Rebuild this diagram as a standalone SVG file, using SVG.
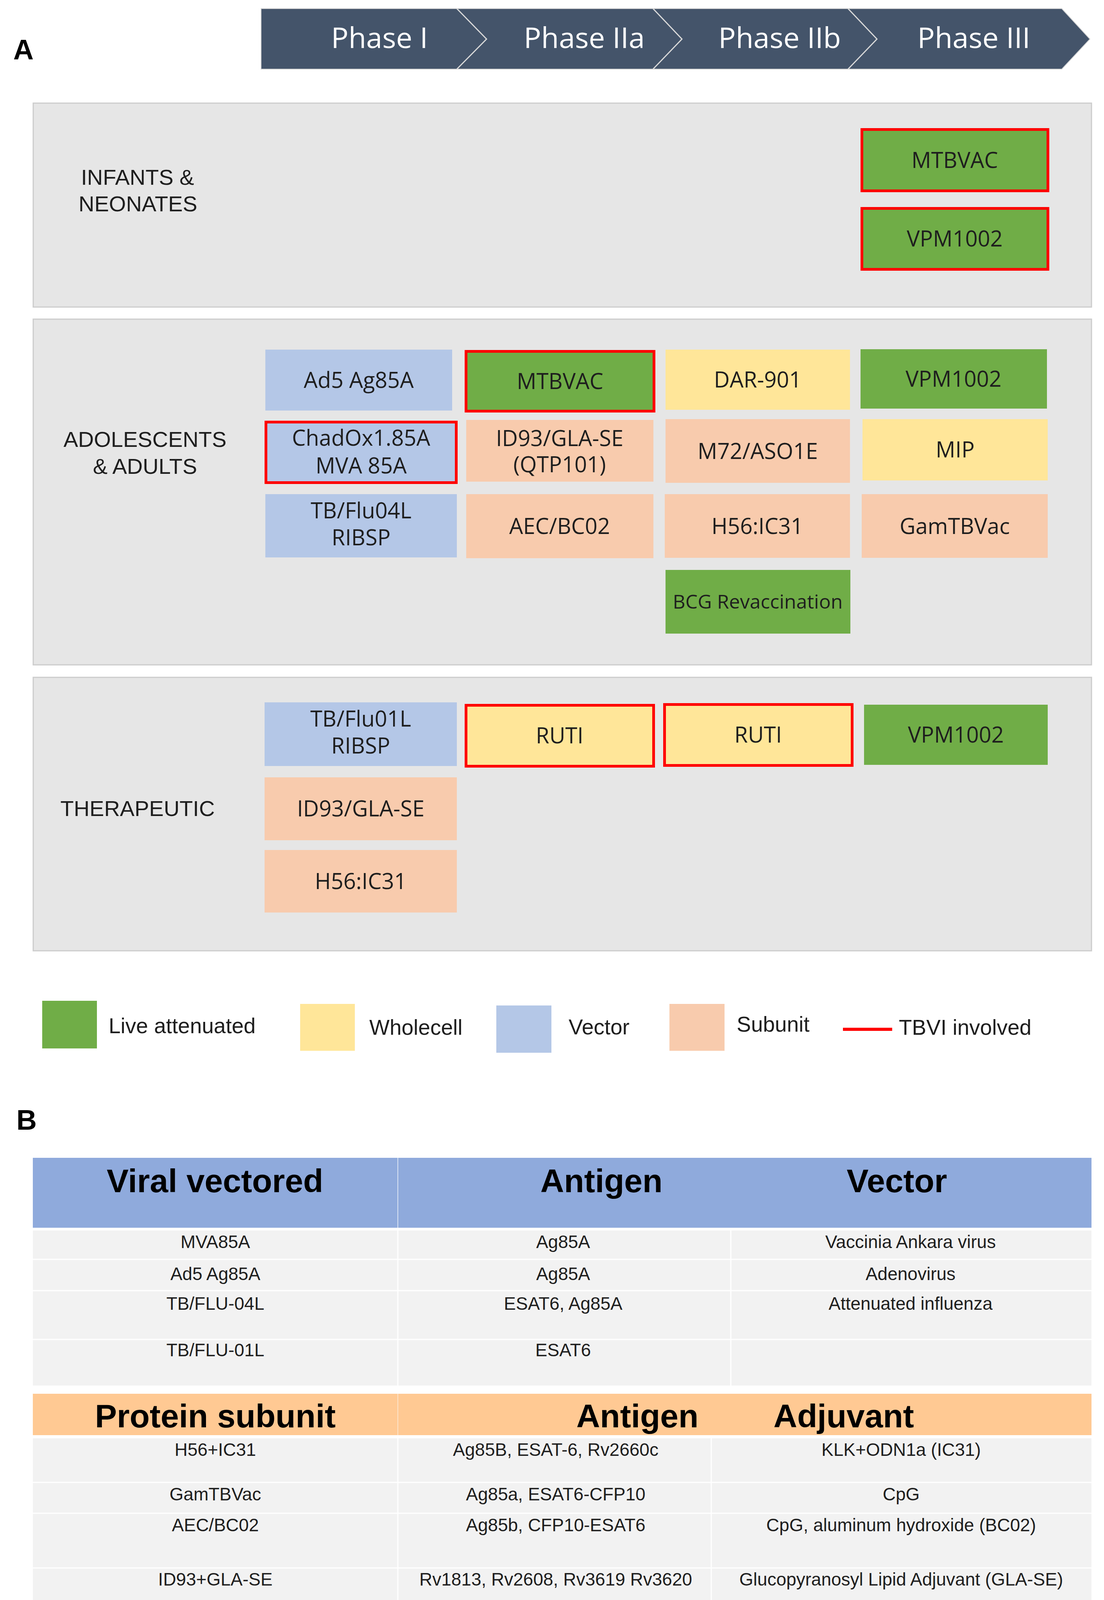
<svg xmlns="http://www.w3.org/2000/svg" width="2825" height="4330" viewBox="0 0 2825 4330">
<style>
.bg{fill:#FFFFFF}
.panel{fill:#E6E6E6;stroke:#CCCCCC;stroke-width:3}
.live{fill:#70AD47}
.whole{fill:#FFE699}
.vec{fill:#B4C7E7}
.sub{fill:#F8CBAD}
.tbvi{stroke:#FF0000;stroke-width:7}
.bt{font-family:"Open Sans","Liberation Sans",sans-serif;font-size:56px;fill:#1E1E1E;text-anchor:middle}
.lab{font-family:"Liberation Sans",Arial,sans-serif;font-size:56px;fill:#1E1E1E;text-anchor:middle}
.leg{font-family:"Liberation Sans",Arial,sans-serif;font-size:55px;fill:#1E1E1E}
.ph{font-family:"Open Sans","Liberation Sans",sans-serif;font-size:74px;fill:#FFFFFF;text-anchor:middle}
.big{font-family:"Liberation Sans",Arial,sans-serif;font-size:72px;font-weight:bold;fill:#000}
.th{font-family:"Liberation Sans",Arial,sans-serif;font-size:84px;font-weight:bold;fill:#000;text-anchor:middle}
.td{font-family:"Liberation Sans",Arial,sans-serif;font-size:46px;fill:#1E1E1E;text-anchor:middle}
.cell{fill:#F2F2F2}
.grid{stroke:#FFFFFF;stroke-width:3;fill:none}
</style>
<rect class="bg" x="0" y="0" width="2825" height="4330"/>

<!-- Panel A label -->
<text class="big" x="34" y="152">A</text>

<!-- Phase banner -->
<g id="phase-banner">
  <polygon points="668,22 2717,22 2789,100 2717,177 668,177" fill="#44546A" stroke="#D4D4D4" stroke-width="2"/>
  <polyline points="1169,22 1245,100 1169,177" fill="none" stroke="#D9D9D9" stroke-width="3"/>
  <polyline points="1671,22 1745,100 1671,177" fill="none" stroke="#D9D9D9" stroke-width="3"/>
  <polyline points="2170,22 2244,100 2170,177" fill="none" stroke="#D9D9D9" stroke-width="3"/>
  <text class="ph" x="971" y="123">Phase I</text>
  <text class="ph" x="1495" y="123">Phase IIa</text>
  <text class="ph" x="1995" y="123">Phase IIb</text>
  <text class="ph" x="2492" y="123">Phase III</text>
</g>

<!-- Panels -->
<g id="panel-infants">
  <rect class="panel" x="85" y="264" width="2708" height="522"/>
  <text class="lab" x="352" y="473">INFANTS &amp;</text>
  <text class="lab" x="353" y="541">NEONATES</text>
</g>
<g id="panel-adults">
  <rect class="panel" x="85" y="817" width="2708" height="885"/>
  <text class="lab" x="371" y="1144">ADOLESCENTS</text>
  <text class="lab" x="371" y="1213">&amp; ADULTS</text>
</g>
<g id="panel-therapeutic">
  <rect class="panel" x="85" y="1734" width="2708" height="700"/>
  <text class="lab" x="352" y="2089">THERAPEUTIC</text>
</g>

<!-- Infants nodes -->
<g id="inf-mtbvac">
  <rect class="live tbvi" x="2205.5" y="331.5" width="476" height="157"/>
  <text class="bt" x="2443" y="430">MTBVAC</text>
</g>
<g id="inf-vpm1002">
  <rect class="live tbvi" x="2205.5" y="533.5" width="476" height="156"/>
  <text class="bt" x="2443" y="631">VPM1002</text>
</g>

<!-- Adolescents & adults nodes -->
<g id="ad-ad5">
  <rect class="vec" x="679" y="895" width="478" height="156"/>
  <text class="bt" x="918" y="993">Ad5 Ag85A</text>
</g>
<g id="ad-mtbvac">
  <rect class="live tbvi" x="1192.5" y="899.5" width="481" height="153"/>
  <text class="bt" x="1433" y="996">MTBVAC</text>
</g>
<g id="ad-dar901">
  <rect class="whole" x="1703" y="895" width="472" height="154"/>
  <text class="bt" x="1939" y="992">DAR-901</text>
</g>
<g id="ad-vpm1002">
  <rect class="live" x="2202" y="894" width="477" height="152"/>
  <text class="bt" x="2440" y="990">VPM1002</text>
</g>
<g id="ad-chadox">
  <rect class="vec tbvi" x="680.5" y="1080.5" width="487" height="155"/>
  <text class="bt" x="924" y="1141">ChadOx1.85A</text>
  <text class="bt" x="924" y="1212">MVA 85A</text>
</g>
<g id="ad-id93">
  <rect class="sub" x="1193" y="1075" width="479" height="158"/>
  <text class="bt" x="1432" y="1142">ID93/GLA-SE</text>
  <text class="bt" x="1432" y="1209">(QTP101)</text>
</g>
<g id="ad-m72">
  <rect class="sub" x="1703" y="1073" width="472" height="163"/>
  <text class="bt" x="1939" y="1175">M72/ASO1E</text>
</g>
<g id="ad-mip">
  <rect class="whole" x="2207" y="1073" width="474" height="157"/>
  <text class="bt" x="2444" y="1171">MIP</text>
</g>
<g id="ad-tbflu04l">
  <rect class="vec" x="679" y="1265" width="490" height="162"/>
  <text class="bt" x="924" y="1327">TB/Flu04L</text>
  <text class="bt" x="924" y="1396">RIBSP</text>
</g>
<g id="ad-aec">
  <rect class="sub" x="1193" y="1265" width="479" height="164"/>
  <text class="bt" x="1432" y="1367">AEC/BC02</text>
</g>
<g id="ad-h56">
  <rect class="sub" x="1701" y="1265" width="474" height="163"/>
  <text class="bt" x="1938" y="1367">H56:IC31</text>
</g>
<g id="ad-gamtbvac">
  <rect class="sub" x="2205" y="1265" width="476" height="163"/>
  <text class="bt" x="2443" y="1367">GamTBVac</text>
</g>
<g id="ad-bcg">
  <rect class="live" x="1703" y="1459" width="473" height="163"/>
  <text class="bt" x="1939" y="1558" style="font-size:50px">BCG Revaccination</text>
</g>

<!-- Therapeutic nodes -->
<g id="th-tbflu01l">
  <rect class="vec" x="677" y="1798" width="492" height="163"/>
  <text class="bt" x="923" y="1860">TB/Flu01L</text>
  <text class="bt" x="923" y="1929">RIBSP</text>
</g>
<g id="th-ruti1">
  <rect class="whole tbvi" x="1192.5" y="1805.5" width="480" height="156"/>
  <text class="bt" x="1432" y="1903">RUTI</text>
</g>
<g id="th-ruti2">
  <rect class="whole tbvi" x="1700.5" y="1803.5" width="480" height="156"/>
  <text class="bt" x="1940" y="1901">RUTI</text>
</g>
<g id="th-vpm1002">
  <rect class="live" x="2211" y="1804" width="470" height="154"/>
  <text class="bt" x="2446" y="1901">VPM1002</text>
</g>
<g id="th-id93">
  <rect class="sub" x="677" y="1990" width="492" height="161"/>
  <text class="bt" x="923" y="2090">ID93/GLA-SE</text>
</g>
<g id="th-h56">
  <rect class="sub" x="677" y="2176" width="492" height="160"/>
  <text class="bt" x="923" y="2276">H56:IC31</text>
</g>

<!-- Legend -->
<g id="legend">
  <rect class="live" x="108" y="2562" width="140" height="122"/>
  <text class="leg" x="278" y="2645">Live attenuated</text>
  <rect class="whole" x="768" y="2570" width="140" height="120"/>
  <text class="leg" x="945" y="2649">Wholecell</text>
  <rect class="vec" x="1270" y="2574" width="141" height="121"/>
  <text class="leg" x="1455" y="2648">Vector</text>
  <rect class="sub" x="1713" y="2570" width="141" height="120"/>
  <text class="leg" x="1885" y="2641">Subunit</text>
  <line x1="2157" y1="2635" x2="2283" y2="2635" stroke="#FF0000" stroke-width="8"/>
  <text class="leg" x="2300" y="2649">TBVI involved</text>
</g>

<!-- Panel B label -->
<text class="big" x="42" y="2892">B</text>

<!-- Viral vectored table -->
<g id="table-viral">
  <rect x="84" y="2964" width="2709" height="179" fill="#8FAADC"/>
  <line x1="1018" y1="2964" x2="1018" y2="3143" stroke="#DCE4F4" stroke-width="2"/>
  <text class="th" x="550" y="3052">Viral vectored</text>
  <text class="th" x="1539" y="3052">Antigen</text>
  <text class="th" x="2295" y="3052">Vector</text>
  <rect class="cell" x="84" y="3150" width="2709" height="397"/>
  <path class="grid" d="M84,3224 H2793 M84,3304 H2793 M84,3429 H2793 M1018,3150 V3547 M1870,3150 V3547"/>
  <text class="td" x="551" y="3195">MVA85A</text>
  <text class="td" x="1441" y="3195">Ag85A</text>
  <text class="td" x="2330" y="3195">Vaccinia Ankara virus</text>
  <text class="td" x="551" y="3277">Ad5 Ag85A</text>
  <text class="td" x="1441" y="3277">Ag85A</text>
  <text class="td" x="2330" y="3277">Adenovirus</text>
  <text class="td" x="551" y="3353">TB/FLU-04L</text>
  <text class="td" x="1441" y="3353">ESAT6, Ag85A</text>
  <text class="td" x="2330" y="3353">Attenuated influenza</text>
  <text class="td" x="551" y="3472">TB/FLU-01L</text>
  <text class="td" x="1441" y="3472">ESAT6</text>
</g>

<!-- Protein subunit table -->
<g id="table-protein">
  <rect x="84" y="3568" width="2709" height="106" fill="#FFC993"/>
  <line x1="1018" y1="3568" x2="1018" y2="3674" stroke="#FBE3CC" stroke-width="2"/>
  <text class="th" x="551" y="3654">Protein subunit</text>
  <text class="th" x="1631" y="3654">Antigen</text>
  <text class="th" x="2159" y="3654">Adjuvant</text>
  <rect class="cell" x="84" y="3682" width="2709" height="612"/>
  <path class="grid" d="M84,3795 H2793 M84,3874 H2793 M84,4014 H2793 M84,4153 H2793 M1018,3682 V4294 M1820,3682 V4294"/>
  <text class="td" x="551" y="3727">H56+IC31</text>
  <text class="td" x="1422" y="3727">Ag85B, ESAT-6, Rv2660c</text>
  <text class="td" x="2306" y="3727">KLK+ODN1a (IC31)</text>
  <text class="td" x="551" y="3841">GamTBVac</text>
  <text class="td" x="1422" y="3841">Ag85a, ESAT6-CFP10</text>
  <text class="td" x="2306" y="3841">CpG</text>
  <text class="td" x="551" y="3920">AEC/BC02</text>
  <text class="td" x="1422" y="3920">Ag85b, CFP10-ESAT6</text>
  <text class="td" x="2306" y="3920">CpG, aluminum hydroxide (BC02)</text>
  <text class="td" x="551" y="4059">ID93+GLA-SE</text>
  <text class="td" x="1422" y="4059">Rv1813, Rv2608, Rv3619 Rv3620</text>
  <text class="td" x="2306" y="4059">Glucopyranosyl Lipid Adjuvant (GLA-SE)</text>
  <text class="td" x="551" y="4199">M72/AS01E</text>
  <text class="td" x="1422" y="4199">Mtb32A, Mtb39A</text>
  <text class="td" x="2306" y="4199">MPL + QS-21 + cholesterol (AS01E)</text>
</g>
</svg>
